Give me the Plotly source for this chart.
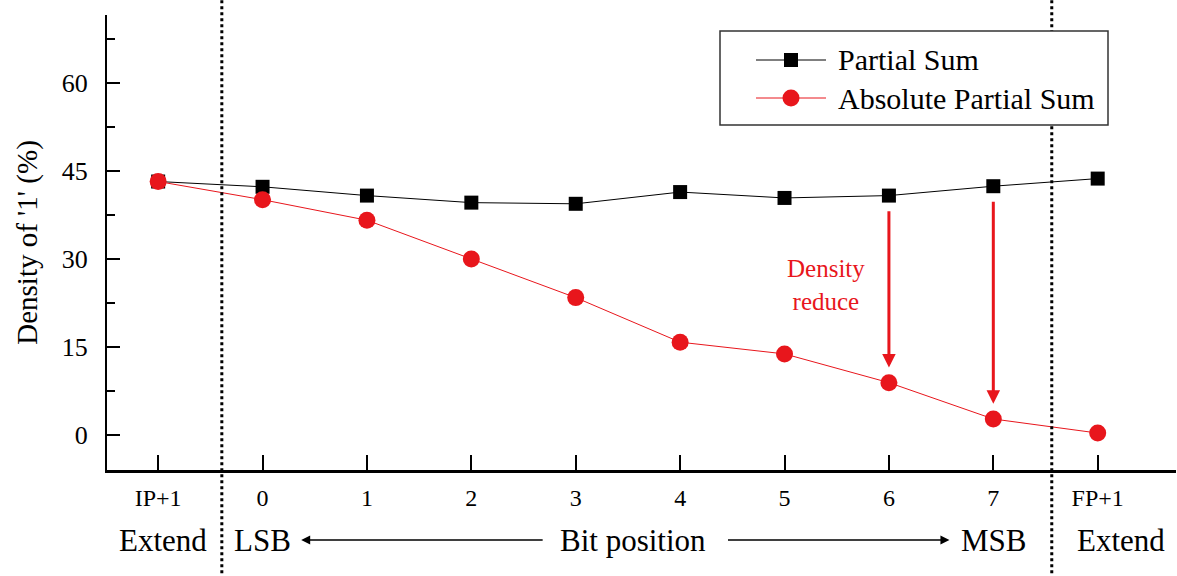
import plotly.graph_objects as go

positions = [-1, 0, 1, 2, 3, 4, 5, 6, 7, 8]
tick_labels = ["IP+1", "0", "1", "2", "3", "4", "5", "6", "7", "FP+1"]
partial_sum = [43.2, 42.3, 40.8, 39.6, 39.4, 41.4, 40.4, 40.8, 42.4, 43.7]
abs_partial_sum = [43.2, 40.1, 36.6, 30.0, 23.4, 15.8, 13.8, 8.9, 2.7, 0.3]
series_names = ["Partial Sum", "Absolute Partial Sum"]
arrow_bits = [6, 7]
bottom_labels = ["Extend", "LSB", "Bit position", "MSB", "Extend"]
bottom_x = [-0.95, 0.0, 3.55, 7.0, 8.22]
divider_x = [-0.39, 7.56]

FONT = "Liberation Serif"
RED = "#e8161c"
W, H = 1177, 576
ML, MR, MT, MB = 107, 1, 15, 106
PW, PH = W - ML - MR, H - MT - MB


def px_x(p):
    return (p - ML) / PW


def px_y(p):
    return (H - MB - p) / PH


fig = go.Figure()
fig.add_trace(go.Scatter(
    x=positions, y=partial_sum, mode="lines+markers", name=series_names[0],
    line=dict(color="black", width=1),
    marker=dict(symbol="square", size=14, color="black")))
fig.add_trace(go.Scatter(
    x=positions, y=abs_partial_sum, mode="lines+markers", name=series_names[1],
    line=dict(color=RED, width=1),
    marker=dict(symbol="circle", size=17, color=RED)))

shapes = []
for dx in divider_x:
    shapes.append(dict(type="line", xref="x", yref="paper", x0=dx, x1=dx,
                       y0=-0.24, y1=1.04, line=dict(color="black", width=3, dash="dot")))

# custom legend box
shapes.append(dict(type="rect", xref="paper", yref="paper",
                   x0=px_x(720), x1=px_x(1108), y0=px_y(125), y1=px_y(31),
                   line=dict(color="#333", width=1.5), fillcolor="white", layer="above"))
annotations = []
legend_rows = [(60, "black", "square"), (98, RED, "circle")]
for (ry, col, sym), name in zip(legend_rows, series_names):
    shapes.append(dict(type="line", xref="paper", yref="paper",
                       x0=px_x(756), x1=px_x(826), y0=px_y(ry), y1=px_y(ry),
                       line=dict(color=col, width=1), layer="above"))
    size = 14 if sym == "square" else 17
    shapes.append(dict(type="rect" if sym == "square" else "circle",
                       xref="paper", yref="paper", xsizemode="pixel", ysizemode="pixel",
                       xanchor=px_x(791), yanchor=px_y(ry),
                       x0=-size / 2, x1=size / 2, y0=-size / 2, y1=size / 2,
                       line=dict(width=0), fillcolor=col, layer="above"))
    annotations.append(dict(x=px_x(836), y=px_y(ry), xref="paper", yref="paper",
                            text=name, showarrow=False, xanchor="left", yanchor="middle",
                            font=dict(family=FONT, size=30, color="black")))

for b in arrow_bits:
    i = positions.index(b)
    annotations.append(dict(
        x=b, y=abs_partial_sum[i] + 2.6, xref="x", yref="y",
        ax=b, ay=partial_sum[i] - 2.4, axref="x", ayref="y",
        showarrow=True, arrowhead=2, arrowsize=0.9, arrowwidth=3,
        arrowcolor=RED, text=""))
annotations.append(dict(
    x=5.4, y=25.5, xref="x", yref="y", showarrow=False,
    text="Density<br>reduce", font=dict(family=FONT, size=25, color=RED),
    align="center"))
for lbl, bx in zip(bottom_labels, bottom_x):
    annotations.append(dict(
        x=bx, y=-0.154, xref="x", yref="paper", showarrow=False,
        text=lbl, font=dict(family=FONT, size=31, color="black"),
        xanchor="center", yanchor="middle"))
# bit-position arrows
annotations.append(dict(
    x=0.37, y=-0.154, xref="x", yref="paper", text="", showarrow=True,
    ax=243, ay=0, arrowhead=2, arrowsize=1.2, arrowwidth=1.5, arrowcolor="black"))
annotations.append(dict(
    x=6.58, y=-0.154, xref="x", yref="paper", text="", showarrow=True,
    ax=-223, ay=0, arrowhead=2, arrowsize=1.2, arrowwidth=1.5, arrowcolor="black"))

fig.update_layout(
    width=W, height=H,
    margin=dict(l=ML, r=MR, t=MT, b=MB),
    paper_bgcolor="white", plot_bgcolor="white",
    font=dict(family=FONT, color="black"),
    showlegend=False,
    shapes=shapes, annotations=annotations,
    xaxis=dict(range=[-1.49, 8.75], tickmode="array", tickvals=positions,
               ticktext=tick_labels, ticks="inside", ticklen=15, tickwidth=2,
               tickcolor="black", showline=True, linewidth=3, linecolor="black",
               showgrid=False, zeroline=False, ticklabelstandoff=4,
               tickfont=dict(family=FONT, size=24)),
    yaxis=dict(range=[-6, 71.6], tickmode="array", tickvals=[0, 15, 30, 45, 60],
               ticks="inside", ticklen=13, tickwidth=2, tickcolor="black",
               showline=True, linewidth=2, linecolor="black",
               showgrid=False, zeroline=False, ticklabelstandoff=12,
               tickfont=dict(family=FONT, size=26),
               minor=dict(tickvals=[7.5, 22.5, 37.5, 52.5, 67.5], ticks="inside",
                          ticklen=8, tickwidth=2, tickcolor="black"),
               title=dict(text="Density of '1' (%)", font=dict(family=FONT, size=29),
                          standoff=16)),
)

fig.write_html("out.html")
